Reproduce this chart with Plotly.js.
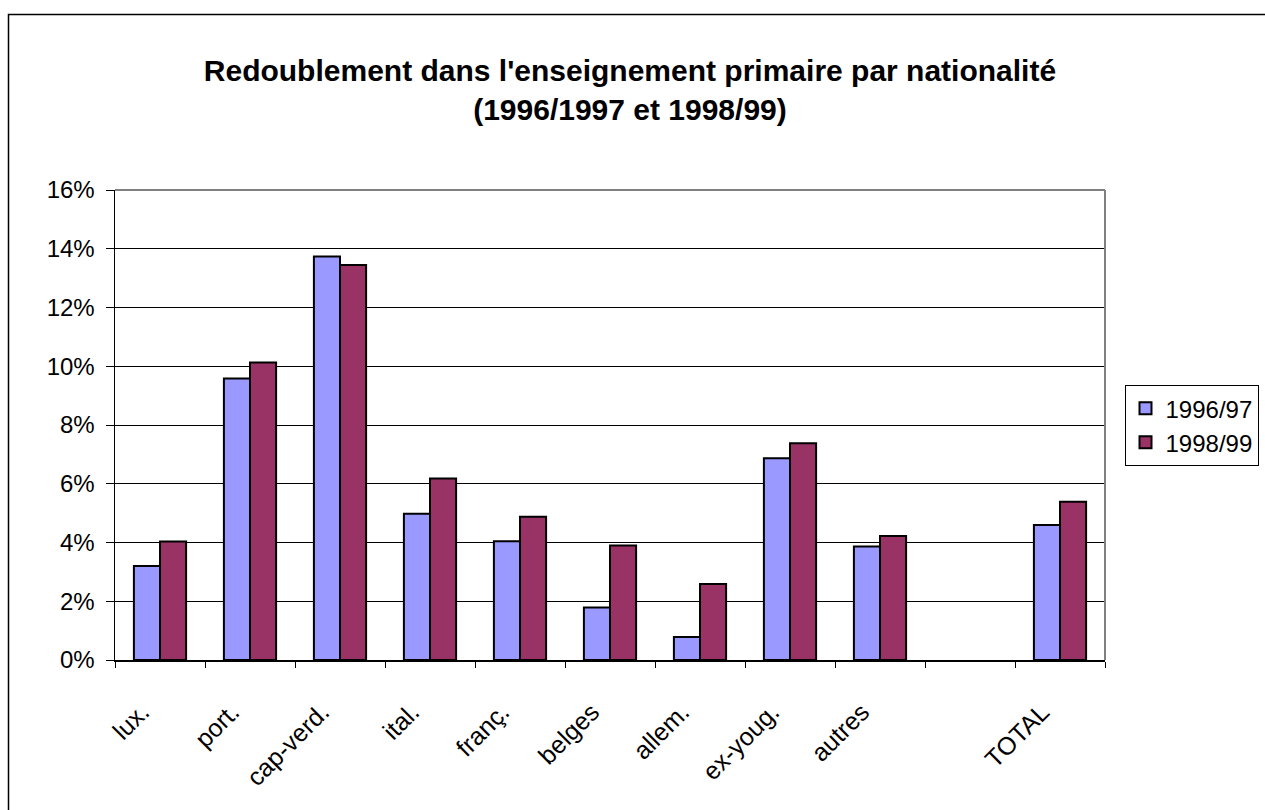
<!DOCTYPE html>
<html>
<head>
<meta charset="utf-8">
<script src="https://cdn.plot.ly/plotly-3.0.1.min.js"></script>
<style>html,body{margin:0;padding:0;background:#fff;}#chart{width:1265px;height:810px;}</style>
</head>
<body>
<div id="chart"></div>
<script>
const categories = ["lux.", "port.", "cap-verd.", "ital.", "franç.", "belges", "allem.", "ex-youg.", "autres", " ", "TOTAL"];
const series1996 = [3.2, 9.58, 13.74, 4.98, 4.04, 1.79, 0.78, 6.87, 3.86, null, 4.6];
const series1998 = [4.03, 10.13, 13.45, 6.18, 4.88, 3.9, 2.59, 7.38, 4.22, null, 5.39];
const seriesNames = ["1996/97", "1998/99"];
const yTicks = [0, 2, 4, 6, 8, 10, 12, 14, 16];

const traces = [
  {type: "bar", name: seriesNames[0], x: categories, y: series1996,
   marker: {color: "#9999FF", line: {color: "#000", width: 2}}, hoverinfo: "x+y"},
  {type: "bar", name: seriesNames[1], x: categories, y: series1998,
   marker: {color: "#993366", line: {color: "#000", width: 2}}, hoverinfo: "x+y"}
];

const layout = {
  width: 1265, height: 810,
  paper_bgcolor: "#fff", plot_bgcolor: "#fff",
  margin: {l: 115, r: 160, t: 190, b: 150, pad: 0, autoexpand: false},
  font: {family: "Arial, 'Liberation Sans', sans-serif", color: "#000", size: 24},
  title: {
    text: "<b>Redoublement dans l'enseignement primaire par nationalité<br>(1996/1997 et 1998/99)</b>",
    font: {size: 30, family: "Arial, 'Liberation Sans', sans-serif", color: "#000"},
    x: 0.498, xanchor: "center", y: 0.9, yanchor: "top"
  },
  barmode: "group",
  bargap: 0.42,
  bargroupgap: 0,
  xaxis: {
    type: "category",
    categoryorder: "array", categoryarray: categories,
    tickangle: -45,
    ticks: "outside", ticklen: 6, tickcolor: "#000", tickwidth: 1,
    tickson: "boundaries",
    showline: true, linecolor: "#000", linewidth: 1.5,
    showgrid: false, zeroline: false,
    mirror: false,
    tickfont: {size: 25},
    ticklabelstandoff: 26,
    ticklabelshift: -18,
    automargin: false
  },
  yaxis: {
    range: [0, 16],
    tickvals: yTicks,
    ticktext: yTicks.map(v => v + "%"),
    ticks: "outside", ticklen: 8, tickcolor: "#000", tickwidth: 1,
    showline: true, linecolor: "#000", linewidth: 1.5,
    showgrid: true, gridcolor: "#000", gridwidth: 1,
    zeroline: false,
    tickfont: {size: 24},
    ticklabelstandoff: 6,
    automargin: false
  },
  legend: {
    x: 1.0197, xanchor: "left", y: 0.585, yanchor: "top",
    bgcolor: "#fff", bordercolor: "#000", borderwidth: 1,
    font: {size: 24},
    tracegroupgap: 0, itemsizing: "constant", itemwidth: 30
  },
  showlegend: true,
  shapes: [
    {type: "line", xref: "paper", yref: "paper", x0: 0, x1: 1, y0: 1, y1: 1, line: {color: "#808080", width: 2}},
    {type: "line", xref: "paper", yref: "paper", x0: 1, x1: 1, y0: 0, y1: 1, line: {color: "#808080", width: 2}},
    {type: "rect", xref: "paper", yref: "paper",
     x0: (8.5 - 115) / 990, x1: (1275 - 115) / 990,
     y0: (660 - 820) / 470, y1: (660 - 14.5) / 470,
     line: {color: "#000", width: 1.5}, fillcolor: "rgba(0,0,0,0)", layer: "below"}
  ]
};

Plotly.newPlot("chart", traces, layout, {displayModeBar: false, staticPlot: true});
</script>
</body>
</html>
